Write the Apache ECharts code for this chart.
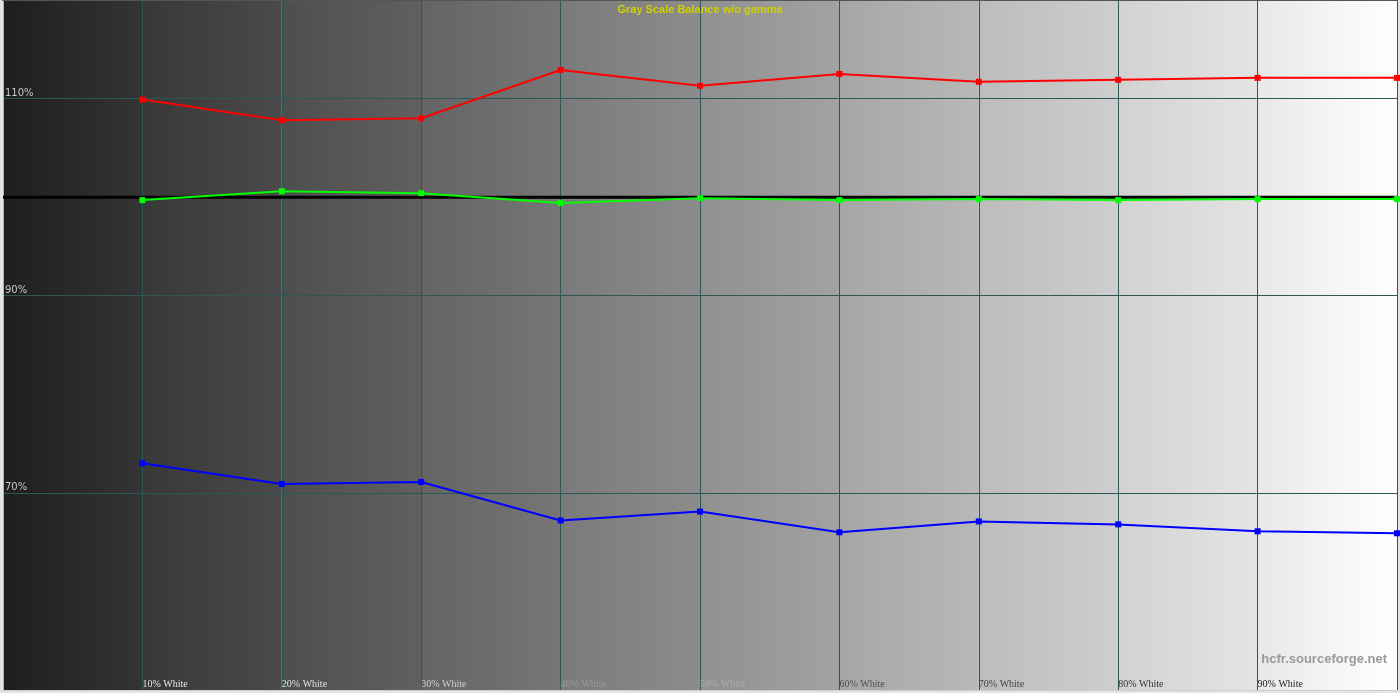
<!DOCTYPE html>
<html>
<head>
<meta charset="utf-8">
<script src="https://cdn.jsdelivr.net/npm/echarts@6/dist/echarts.min.js"></script>
<style>
html,body{margin:0;padding:0;background:#ddd;}
#chart{width:1400px;height:693px;}
</style>
</head>
<body>
<div id="chart"></div>
<script>
// ---- data ----
var levels = [10, 20, 30, 40, 50, 60, 70, 80, 90, 100];
var xLabels = ['10% White','20% White','30% White','40% White','50% White','60% White','70% White','80% White','90% White'];
var redValues   = [109.9, 107.8, 108.0, 112.9, 111.3, 112.5, 111.7, 111.9, 112.1, 112.1];
var greenValues = [99.7, 100.6, 100.4, 99.4, 99.9, 99.7, 99.8, 99.7, 99.8, 99.8];
var blueValues  = [73.0, 70.9, 71.1, 67.2, 68.1, 66.0, 67.1, 66.8, 66.1, 65.9];
var referenceLevel = 100;
var yTickLabels = ['70%', '90%', '110%'];
var bandEdges = [0, 10, 20, 30, 40, 50, 60, 70, 80, 90, 100];

// ---- styles ----
var xLabelColors = ['#e6e6e6','#e0e0e0','#cfcfcf','#9c9c9c','#acacac','#505050','#424242','#333333','#222222'];

function pairs(vals){ return levels.map(function(l,i){ return [l, vals[i]]; }); }
function grayHex(g){ g=Math.max(0,Math.min(255,Math.round(g))); var h=g.toString(16); if(h.length<2)h='0'+h; return '#'+h+h+h; }
var bands = [];
for (var i = 0; i < bandEdges.length - 1; i++) {
  var g0 = 30 + bandEdges[i] * 2.2 + (i ? 4 : 0);
  var g1 = 30 + bandEdges[i+1] * 2.2;
  if (i === bandEdges.length - 2) g1 = 255;
  bands.push([
    { xAxis: bandEdges[i], itemStyle: { color: new echarts.graphic.LinearGradient(0,0,1,0,[{offset:0,color:grayHex(g0)},{offset:1,color:grayHex(g1)}]) } },
    { xAxis: bandEdges[i+1] }
  ]);
}

var chart = echarts.init(document.getElementById('chart'));
chart.setOption({
  animation: false,
  backgroundColor: '#e4e4e4',
  title: [
    { text: 'Gray Scale Balance w/o gamma', left: 'center', top: -1,
      textStyle: { color: '#d2cf00', fontSize: 11, fontWeight: 'bold', fontFamily: 'Liberation Sans' } },
    { text: 'hcfr.sourceforge.net', right: 8, top: 648,
      textStyle: { color: '#9a9a9a', fontSize: 13, fontWeight: 'bold', fontFamily: 'Liberation Sans' } }
  ],
  grid: { left: 1, right: -1, top: 0, bottom: 3 },
  xAxis: [{
    type: 'value', min: 0, max: 100, interval: 10,
    axisLine: { show: true, onZero: false, lineStyle: { color: '#cfcfcf', width: 1 } },
    axisTick: { show: false },
    splitLine: { show: true, lineStyle: { color: '#285858', width: 1 } },
    axisLabel: {
      inside: true, align: 'left', verticalAlign: 'bottom', margin: 1,
      fontFamily: 'Liberation Serif', fontSize: 10,
      formatter: function(v){ var i = Math.round(v/10) - 1; return (i >= 0 && i < xLabels.length) ? xLabels[i] : ''; },
      color: function(v){ var i = Math.round(v/10) - 1; return xLabelColors[i] || '#ccc'; }
    }
  }, {
    type: 'value', position: 'top', min: 0, max: 100,
    axisLine: { show: true, lineStyle: { color: '#555', width: 2 } },
    axisTick: { show: false }, axisLabel: { show: false }, splitLine: { show: false }
  }],
  yAxis: {
    type: 'value', min: 50, max: 120, interval: 20,
    axisLine: { show: true, lineStyle: { color: '#b0b0b0', width: 1 } },
    axisTick: { show: false },
    splitLine: { show: true, lineStyle: { color: '#285858', width: 1 } },
    axisLabel: {
      inside: true, align: 'left', verticalAlign: 'bottom', margin: 2,
      color: '#c8c8c8', fontSize: 10, fontFamily: 'DejaVu Sans',
      formatter: function(v){ var s = v + '%'; return yTickLabels.indexOf(s) >= 0 ? s : ''; }
    }
  },
  series: [
    {
      name: 'bands', type: 'line', z: -1, data: [], symbol: 'none',
      markArea: { silent: true, z: -5, data: bands }
    },
    {
      name: 'reference', type: 'line', z: 2,
      data: [[bandEdges[0], referenceLevel], [bandEdges[bandEdges.length-1], referenceLevel]],
      symbol: 'none', lineStyle: { color: '#000', width: 3 }
    },
    { name: 'Red', type: 'line', z: 3, data: pairs(redValues), symbol: 'rect', symbolSize: 6,
      lineStyle: { color: '#ff0000', width: 2 }, itemStyle: { color: '#ff0000' } },
    { name: 'Green', type: 'line', z: 3, data: pairs(greenValues), symbol: 'rect', symbolSize: 6,
      lineStyle: { color: '#00ff00', width: 2 }, itemStyle: { color: '#00ff00' } },
    { name: 'Blue', type: 'line', z: 3, data: pairs(blueValues), symbol: 'rect', symbolSize: 6,
      lineStyle: { color: '#0000ff', width: 2 }, itemStyle: { color: '#0000ff' } }
  ]
});
</script>
</body>
</html>
